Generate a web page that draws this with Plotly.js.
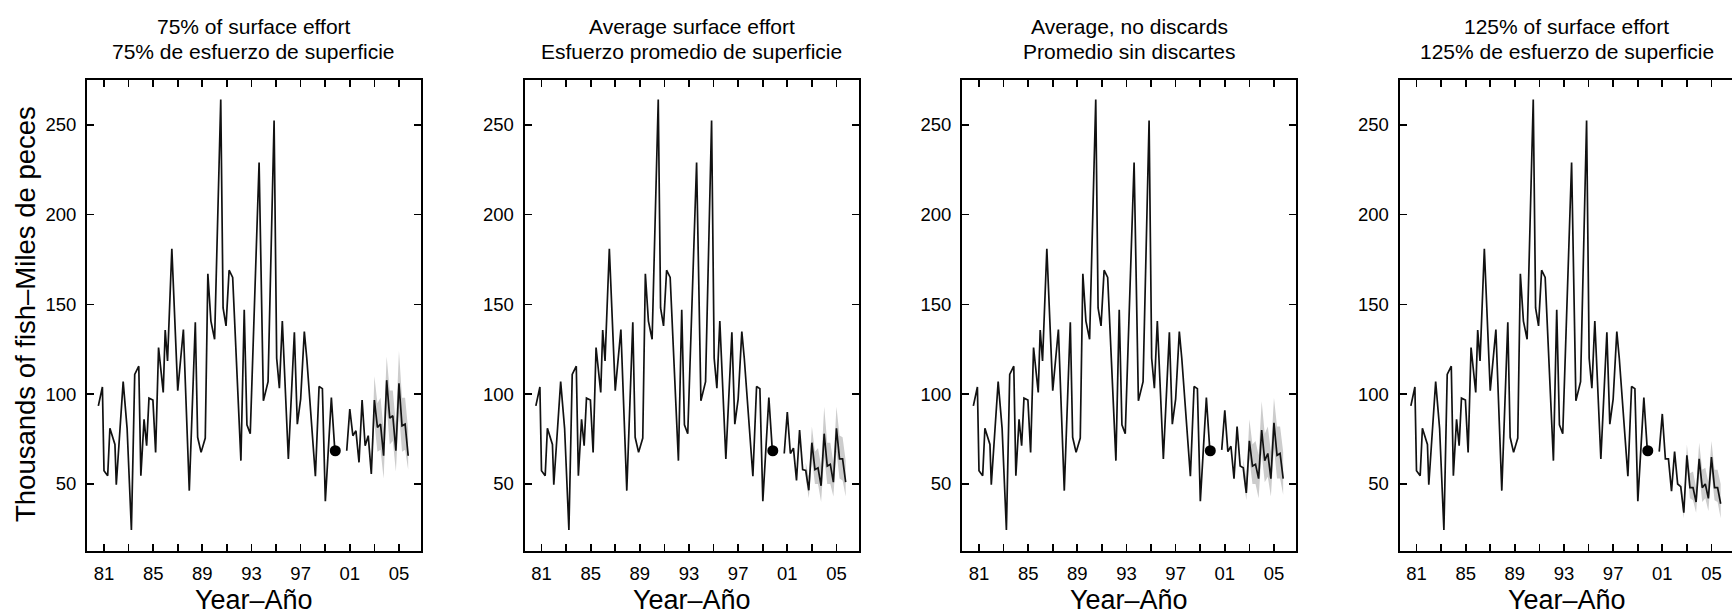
<!DOCTYPE html>
<html>
<head>
<meta charset="utf-8">
<script src="https://cdn.plot.ly/plotly-3.0.1.min.js"></script>
<style>
  html, body { margin: 0; padding: 0; background: #ffffff; }
  #chart { width: 1732px; height: 616px; }
</style>
</head>
<body>
<div id="chart"></div>
<script>
// ---------------- DATA ----------------
const panelTitlesEn = ["75% of surface effort", "Average surface effort", "Average, no discards", "125% of surface effort"];
const panelTitlesEs = ["75% de esfuerzo de superficie", "Esfuerzo promedio de superficie", "Promedio sin discartes", "125% de esfuerzo de superficie"];
const yAxisTitle = "Thousands of fish\u2013Miles de peces";
const xAxisTitle = "Year\u2013A\u00f1o";

const xTickVals = [1981, 1983, 1985, 1987, 1989, 1991, 1993, 1995, 1997, 1999, 2001, 2003, 2005];
const xTickText = ["81", "", "85", "", "89", "", "93", "", "97", "", "01", "", "05"];
const yTickVals = [50, 100, 150, 200, 250];

// historical estimates (same in every panel)
const histYears = [1980.54,1980.87,1981.0,1981.3,1981.48,1981.89,1982.0,1982.56,1982.88,1983.23,1983.5,1983.83,1984.0,1984.26,1984.47,1984.66,1984.98,1985.2,1985.44,1985.82,1985.98,1986.17,1986.52,1987.0,1987.46,1987.94,1988.43,1988.62,1988.9,1989.24,1989.45,1989.7,1990.0,1990.23,1990.5,1990.69,1990.93,1991.18,1991.47,1992.14,1992.41,1992.63,1992.9,1993.62,1993.97,1994.35,1994.84,1995.05,1995.27,1995.51,1996.0,1996.49,1996.73,1997.0,1997.3,1997.5,1998.2,1998.5,1998.77,1999.01,1999.5,1999.77];
const histValues = [93.5,104,57.4,54.6,81,72,49.6,107,81,24.4,111,115.6,54.6,86,71.3,97.8,96.7,67.6,126,101,135.7,118.5,181,102,136,46.3,140,76,67.6,75.6,167,140.7,130.6,194,264,148,138,169,165,63,147,83,78,229,96.3,107,252.4,120,103.3,140.7,63.9,134.4,83.3,97.2,134.8,120,54.3,104.3,103.1,40.4,98.1,70];

// single large dot
const dotYear = [1999.82];
const dotValue = [68.5];

// projections (quarterly)
const projYears = [2000.75,2001.0,2001.25,2001.5,2001.75,2002.0,2002.25,2002.5,2002.75,2003.0,2003.25,2003.5,2003.75,2004.0,2004.25,2004.5,2004.75,2005.0,2005.25,2005.5,2005.75];
const proj75     = [68.5,91.7,76.9,79.6,62,96.7,71.3,76.9,55.6,96.7,81.5,83.3,65.7,107.8,86.7,88,68.5,106.1,82.4,83.3,65.7];
const projAvg    = [67,90,67,70,52,80,58,57.5,46.5,73,58,59,49,78,60,61,51,81,64,64,51];
const projNoDisc = [69,91,68,71,53,82,60,59,45,74,60,61,53,80,63,67,53,84,66,67,53];
const proj125    = [68,89,64,64,46,68,50,48.5,34,66,48,48,40,64,48,50,42,65,48,48,39];

// confidence bands
const band75Years = [2002.75,2003.0,2003.25,2003.5,2003.75,2004.0,2004.25,2004.5,2004.75,2005.0,2005.25,2005.5,2005.75];
const band75Upper = [58,110,95,98,80,121,102,102,83,124,98,98,80];
const band75Lower = [54,84,68,69,53,93,72,74,57,90,68,69,58];

const bandYears = [2002.5,2002.75,2003.0,2003.25,2003.5,2003.75,2004.0,2004.25,2004.5,2004.75,2005.0,2005.25,2005.5,2005.75];
const bandAvgUpper = [62,54,82,68,70,60,93,73,73,62,93,77,76,63];
const bandAvgLower = [53,42,64,50,50,40,65,50,50,43,68,53,52,43];
const bandNoDiscUpper = [64,53,86,72,74,66,96,78,82,68,98,82,82,68];
const bandNoDiscLower = [54,41,64,50,50,42,67,51,54,43,70,53,53,44];
const band125Upper = [52,39,72,56,57,48,73,58,59,51,74,58,58,50];
const band125Lower = [45,31,60,42,41,34,56,40,42,35,57,41,40,31];

// ---------------- LAYOUT / STYLE ----------------
const W = 1732, H = 616;
const FONT = "Liberation Sans, Arial, Helvetica, sans-serif";
const plotLeftPx = [87, 524.5, 962, 1399.5];
const plotWidthPx = 334;
const pxPerYear = 12.29;
const xStart = 1979.617;
const plotTopPx = 80, plotBottomPx = 551;
const yRange = [12.7, 274.9];

const panels = [
  {proj: proj75, bx: band75Years, bu: band75Upper, bl: band75Lower},
  {proj: projAvg, bx: bandYears, bu: bandAvgUpper, bl: bandAvgLower},
  {proj: projNoDisc, bx: bandYears, bu: bandNoDiscUpper, bl: bandNoDiscLower},
  {proj: proj125, bx: bandYears, bu: band125Upper, bl: band125Lower}
];

const traces = [];
const layout = {
  width: W, height: H,
  margin: {l: 0, r: 0, t: 0, b: 0, pad: 0},
  paper_bgcolor: "#ffffff",
  plot_bgcolor: "#ffffff",
  showlegend: false,
  font: {family: FONT, color: "#000000"},
  annotations: []
};

const tickStyle = {
  ticks: "inside", ticklen: 7, tickwidth: 1.7, tickcolor: "#000",
  showgrid: false, zeroline: false, fixedrange: true,
  tickfont: {family: FONT, size: 18.5, color: "#000"}
};

panels.forEach((p, i) => {
  const n = i + 1;
  const xa = n === 1 ? "x" : "x" + n;
  const ya = n === 1 ? "y" : "y" + n;
  const left = plotLeftPx[i];
  let right = left + plotWidthPx;
  const clipped = right > W;
  if (clipped) right = W;
  const xEnd = xStart + (right - left) / pxPerYear;

  traces.push({x: p.bx, y: p.bl, xaxis: xa, yaxis: ya, type: "scatter", mode: "lines",
    line: {width: 0, color: "rgba(0,0,0,0)"}, hoverinfo: "skip"});
  traces.push({x: p.bx, y: p.bu, xaxis: xa, yaxis: ya, type: "scatter", mode: "lines",
    fill: "tonexty", fillcolor: "#cccccc", line: {width: 0, color: "rgba(0,0,0,0)"}, hoverinfo: "skip"});
  traces.push({x: histYears, y: histValues, xaxis: xa, yaxis: ya, type: "scatter", mode: "lines",
    line: {color: "#111111", width: 1.7}});
  traces.push({x: projYears, y: p.proj, xaxis: xa, yaxis: ya, type: "scatter", mode: "lines",
    line: {color: "#111111", width: 1.7}});
  traces.push({x: dotYear, y: dotValue, xaxis: xa, yaxis: ya, type: "scatter", mode: "markers",
    marker: {color: "#000000", size: 11, line: {width: 0}}});

  const xKey = n === 1 ? "xaxis" : "xaxis" + n;
  const yKey = n === 1 ? "yaxis" : "yaxis" + n;
  layout[xKey] = Object.assign({}, tickStyle, {
    domain: [left / W, right / W],
    anchor: ya,
    range: [xStart, xEnd],
    tickmode: "array", tickvals: xTickVals, ticktext: xTickText,
    showline: true, linewidth: 2, linecolor: "#000", mirror: "ticks",
    ticklabelstandoff: 5
  });
  layout[yKey] = Object.assign({}, tickStyle, {
    domain: [(H - plotBottomPx) / H, (H - plotTopPx) / H],
    anchor: xa,
    range: yRange,
    tickmode: "array", tickvals: yTickVals,
    showline: true, linewidth: 2, linecolor: "#000", mirror: clipped ? false : "ticks",
    ticklabelstandoff: 5
  });

  if (clipped) {
    // right-hand ticks only; the frame's right edge lies just outside the picture
    layout.yaxis5 = Object.assign({}, tickStyle, {
      overlaying: ya, anchor: xa, side: "right",
      range: yRange, tickmode: "array", tickvals: yTickVals,
      showticklabels: false, showline: false
    });
  }

  const cx = (left + plotWidthPx / 2) / W;
  layout.annotations.push({text: panelTitlesEn[i], xref: "paper", yref: "paper", x: cx, y: (H - 26.5) / H,
    xanchor: "center", yanchor: "middle", showarrow: false, font: {family: FONT, size: 21, color: "#000"}});
  layout.annotations.push({text: panelTitlesEs[i], xref: "paper", yref: "paper", x: cx, y: (H - 52) / H,
    xanchor: "center", yanchor: "middle", showarrow: false, font: {family: FONT, size: 21, color: "#000"}});
  layout.annotations.push({text: xAxisTitle, xref: "paper", yref: "paper", x: cx, y: (H - 600) / H,
    xanchor: "center", yanchor: "middle", showarrow: false, font: {family: FONT, size: 27, color: "#000"}});
});

layout.annotations.push({text: yAxisTitle, xref: "paper", yref: "paper", x: 25 / W, y: (H - 314) / H,
  xanchor: "center", yanchor: "middle", textangle: -90, showarrow: false,
  font: {family: FONT, size: 27.5, color: "#000"}});

Plotly.newPlot("chart", traces, layout, {displayModeBar: false, staticPlot: true});
</script>
</body>
</html>
